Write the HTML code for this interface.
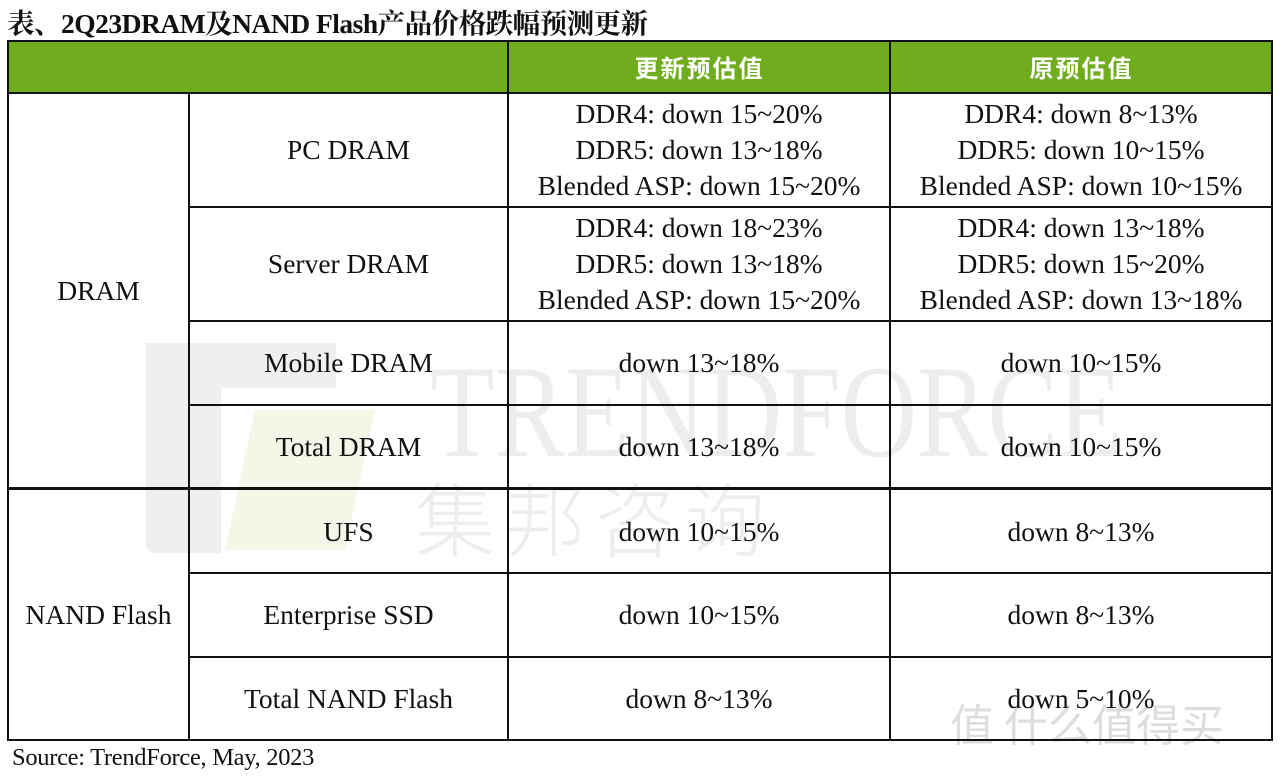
<!DOCTYPE html>
<html><head><meta charset="utf-8"><style>
body{margin:0;width:1286px;height:782px;background:#fff;position:relative;overflow:hidden;font-family:"Liberation Serif","Noto Serif CJK SC",serif;color:#111}
.t{position:absolute;left:7px;top:1px;font-size:27.5px;font-weight:bold;letter-spacing:-0.5px}
.c{position:absolute;display:flex;align-items:center;justify-content:center;text-align:center;font-size:27.5px;line-height:36px;letter-spacing:0px}
.h{position:absolute;top:40px;height:53px;background:#6fac1e}
.hl{position:absolute;color:#fff;font-family:"Noto Sans CJK SC",sans-serif;font-size:24px;font-weight:bold;top:40px;height:53px;display:flex;align-items:center;justify-content:center;letter-spacing:2px}
.v{position:absolute;width:2px;background:#111}
.hz{position:absolute;height:2px;background:#111}
.wm{position:absolute;color:#ededed;font-family:"Liberation Serif",serif}
</style></head><body>
<div class="t">表、2Q23DRAM及NAND Flash产品价格跌幅预测更新</div>
<div class="h" style="left:7px;width:1266px"></div>
<div style="position:absolute;left:146px;top:343px;width:75px;height:210px;background:#efefef;border-radius:10px 0 0 10px"></div>
<div style="position:absolute;left:146px;top:343px;width:190px;height:45px;background:#efefef"></div>
<div style="position:absolute;left:240px;top:410px;width:120px;height:140px;background:#f4f7e8;transform:skewX(-12deg)"></div>
<div class="wm" style="left:430px;top:335px;font-size:132px;letter-spacing:0px;transform:scaleX(0.8);transform-origin:left">TRENDFORCE</div>
<div class="wm" style="left:415px;top:458px;font-size:80px;font-family:'Noto Sans CJK SC',sans-serif;font-weight:300;letter-spacing:10px">集邦咨询</div>
<div class="wm" style="left:950px;top:690px;font-size:44px;color:#ddd;font-family:'Noto Sans CJK SC',sans-serif">值 什么值得买</div>
<div class="hl" style="left:509px;width:381px">更新预估值</div>
<div class="hl" style="left:891px;width:381px">原预估值</div>
<div class="v" style="left:7px;top:40px;height:701px"></div>
<div class="v" style="left:1271px;top:40px;height:701px"></div>
<div class="v" style="left:507px;top:40px;height:701px"></div>
<div class="v" style="left:889px;top:40px;height:701px"></div>
<div class="v" style="left:188px;top:93px;height:648px"></div>
<div class="hz" style="left:7px;top:40px;width:1266px"></div>
<div class="hz" style="left:7px;top:92px;width:1266px"></div>
<div class="hz" style="left:188px;top:206px;width:1085px"></div>
<div class="hz" style="left:188px;top:320px;width:1085px"></div>
<div class="hz" style="left:188px;top:404px;width:1085px"></div>
<div class="hz" style="left:7px;top:487px;width:1266px;height:3px"></div>
<div class="hz" style="left:188px;top:572px;width:1085px"></div>
<div class="hz" style="left:188px;top:656px;width:1085px"></div>
<div class="hz" style="left:7px;top:739px;width:1266px"></div>
<div class="c" style="left:9px;width:179px;top:93px;height:395px">DRAM</div>
<div class="c" style="left:9px;width:179px;top:490px;height:250px">NAND Flash</div>
<div class="c" style="left:190px;width:317px;top:93px;height:114px">PC DRAM</div>
<div class="c" style="left:190px;width:317px;top:207px;height:114px">Server DRAM</div>
<div class="c" style="left:190px;width:317px;top:321px;height:84px">Mobile DRAM</div>
<div class="c" style="left:190px;width:317px;top:405px;height:84px">Total DRAM</div>
<div class="c" style="left:190px;width:317px;top:490px;height:84px">UFS</div>
<div class="c" style="left:190px;width:317px;top:573px;height:84px">Enterprise SSD</div>
<div class="c" style="left:190px;width:317px;top:657px;height:84px">Total NAND Flash</div>
<div class="c" style="left:509px;width:380px;top:93px;height:114px">DDR4: down 15~20%<br>DDR5: down 13~18%<br>Blended ASP: down 15~20%</div>
<div class="c" style="left:509px;width:380px;top:207px;height:114px">DDR4: down 18~23%<br>DDR5: down 13~18%<br>Blended ASP: down 15~20%</div>
<div class="c" style="left:509px;width:380px;top:321px;height:84px">down 13~18%</div>
<div class="c" style="left:509px;width:380px;top:405px;height:84px">down 13~18%</div>
<div class="c" style="left:509px;width:380px;top:490px;height:84px">down 10~15%</div>
<div class="c" style="left:509px;width:380px;top:573px;height:84px">down 10~15%</div>
<div class="c" style="left:509px;width:380px;top:657px;height:84px">down 8~13%</div>
<div class="c" style="left:891px;width:380px;top:93px;height:114px">DDR4: down 8~13%<br>DDR5: down 10~15%<br>Blended ASP: down 10~15%</div>
<div class="c" style="left:891px;width:380px;top:207px;height:114px">DDR4: down 13~18%<br>DDR5: down 15~20%<br>Blended ASP: down 13~18%</div>
<div class="c" style="left:891px;width:380px;top:321px;height:84px">down 10~15%</div>
<div class="c" style="left:891px;width:380px;top:405px;height:84px">down 10~15%</div>
<div class="c" style="left:891px;width:380px;top:490px;height:84px">down 8~13%</div>
<div class="c" style="left:891px;width:380px;top:573px;height:84px">down 8~13%</div>
<div class="c" style="left:891px;width:380px;top:657px;height:84px">down 5~10%</div>
<div style="position:absolute;left:12px;top:744px;font-size:24.5px;letter-spacing:-0.3px">Source: TrendForce, May, 2023</div>
</body></html>
